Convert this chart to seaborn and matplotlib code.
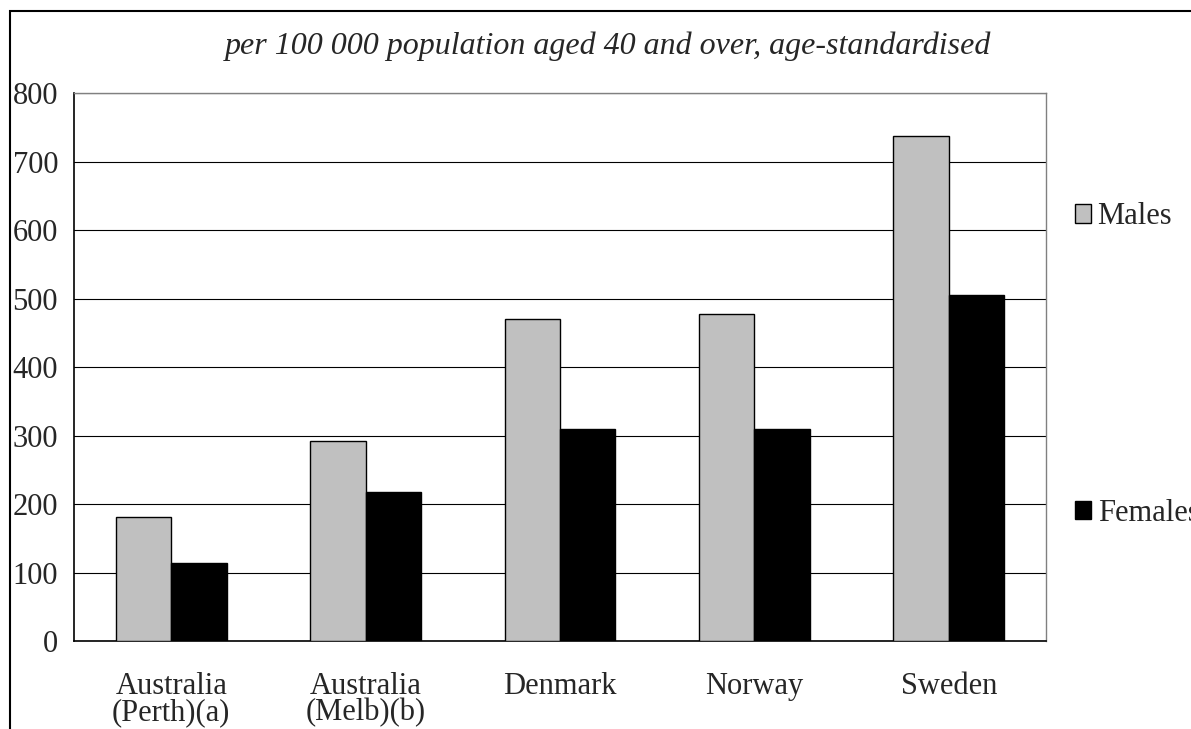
import pandas as pd
import matplotlib.pyplot as plt
from matplotlib.patches import Patch, Rectangle
import seaborn as sns

countries = ['Australia\n(Perth)(a)', 'Australia\n(Melb)(b)', 'Denmark', 'Norway', 'Sweden']
males = [181, 292, 470, 477, 737]
females = [114, 217, 309, 309, 505]
series = ['Males', 'Females']
colors = ['#c0c0c0', '#000000']
y_ticks = [0, 100, 200, 300, 400, 500, 600, 700, 800]

df = pd.DataFrame({
    'country': countries * 2,
    'sex': ['Males'] * len(countries) + ['Females'] * len(countries),
    'rate': males + females,
})

sns.set_style('white')
plt.rcParams['font.family'] = ['Liberation Serif', 'DejaVu Serif']

W, H = 1191, 729
FS = 22
fig = plt.figure(figsize=(W / 100, H / 100), dpi=100)
ax = fig.add_axes([74 / W, 1 - 641 / H, (1046 - 74) / W, (641 - 93) / H])

sns.barplot(data=df, x='country', y='rate', hue='sex', hue_order=series,
            palette=colors, edgecolor='black', linewidth=1, width=0.57,
            gap=0, legend=False, ax=ax, zorder=3)

ax.set_ylim(0, 800)
ax.set_xlim(-0.5, len(countries) - 0.5)
ax.set_yticks(y_ticks)
ax.yaxis.grid(True, color='black', linewidth=0.8, zorder=0)
ax.set_axisbelow(True)
ax.set_xlabel('')
ax.set_ylabel('')
ax.tick_params(axis='both', length=0, labelsize=FS)
ax.tick_params(axis='y', pad=11.5)
ax.tick_params(axis='x', pad=22)
for lbl in ax.get_xticklabels():
    lbl.set_linespacing(0.9)

for side in ['left', 'bottom']:
    ax.spines[side].set_color('black')
    ax.spines[side].set_linewidth(1.2)
for side in ['top', 'right']:
    ax.spines[side].set_visible(True)
    ax.spines[side].set_color('#808080')
    ax.spines[side].set_linewidth(1)

fig.text(608 / W, 1 - 46 / H, 'per 100 000 population aged 40 and over, age-standardised',
         ha='center', va='center', fontsize=23, style='italic')

handles = [Patch(facecolor=c, edgecolor='black', linewidth=1) for c in colors]
fig.legend(handles, series, loc='center left', bbox_to_anchor=(1060 / W, 1 - 365 / H),
           frameon=False, fontsize=FS, handlelength=0.53, handleheight=0.53,
           handletextpad=0.2, labelspacing=8.75, borderpad=0)

# outer chart border (cut off at right and bottom)
fig.add_artist(Rectangle((10 / W, -0.1), 1.2, (1 - 11 / H) + 0.1,
                         transform=fig.transFigure, fill=False,
                         edgecolor='black', linewidth=1.5))

fig.savefig('out.png', dpi=100)
